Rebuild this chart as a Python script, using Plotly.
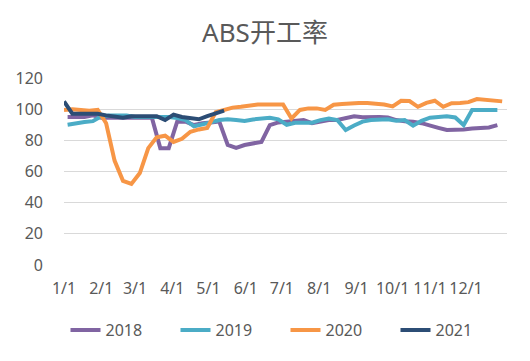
import pandas as pd
import plotly.graph_objects as go

title_text = "ABS开工率"
series_names = ["2018", "2019", "2020", "2021"]
series_colors = ["#8064A2", "#4BACC6", "#F79646", "#2C4D75"]

# month tick positions (shared display year) and their labels
tick_dates = ["2019-01-01", "2019-02-01", "2019-03-01", "2019-04-01", "2019-05-01", "2019-06-01",
              "2019-07-01", "2019-08-01", "2019-09-01", "2019-10-01", "2019-11-01", "2019-12-01"]
tick_labels = ["1/1", "2/1", "3/1", "4/1", "5/1", "6/1", "7/1", "8/1", "9/1", "10/1", "11/1", "12/1"]

# weekly values (first-week dates, shared display year)
start_2018 = "2019-01-04"
start_2019 = "2019-01-04"
start_2020 = "2019-01-01"
start_2021 = "2019-01-01"

values_2018 = [95, 95, 95, 96, 94.5, 94.5, 94.5, 94.5, 94.5, 94.5,
               94.5, 75, 75, 92, 92, 89.8, 91, 91.5, 92, 77,
               75.2, 77, 78, 79, 89.8, 91.5, 92, 92.5, 93, 91,
               92, 93, 93, 94.5, 95.5, 94.8, 95, 95, 94.7, 93,
               92.3, 92, 91, 89.8, 88, 86.6, 86.6, 87, 87.6, 88,
               88.3, 89.8]
values_2019 = [90, 91, 91.7, 92.3, 95.5, 96, 96.3, 96, 95, 95,
               95, 95, 95, 94.3, 93, 89, 90, 91.5, 93, 93.5,
               93, 92.4, 93.4, 94, 94.5, 93.5, 90, 91.3, 91.3, 91.3,
               93, 94, 93, 86.6, 89.5, 92, 93, 93.3, 93.5, 92.5,
               93, 89.4, 92.5, 94.5, 95.3, 95.5, 94.7, 89.8, 99.4, 99.5,
               99.5, 99.5]
values_2020 = [99.5, 100, 99.5, 99, 99.5, 91, 67, 54, 52, 59,
               75, 82, 83, 79, 81, 85.5, 87, 88, 98, 99.5,
               101, 101.5, 102.5, 103, 103, 103, 103, 94, 99.5, 100.5,
               100.5, 99.5, 102.8, 103.3, 103.8, 104, 104, 103.7, 103, 101.8,
               105.4, 105.2, 101.5, 104, 105.4, 101.5, 103.8, 104, 104.5, 106.5,
               106, 106, 105]
values_2021 = [105, 97, 97, 97, 97, 96, 95.5, 94.5, 95.5, 95.5,
               95.5, 95.5, 93, 96.5, 95, 94, 93.5, 95.5, 97.5, 99]

starts = [start_2018, start_2019, start_2020, start_2021]
all_values = [values_2018, values_2019, values_2020, values_2021]

fig = go.Figure()
for name, color, start, vals in zip(series_names, series_colors, starts, all_values):
    dates = pd.date_range(start=start, periods=len(vals), freq="7D")
    fig.add_trace(go.Scatter(
        x=dates, y=vals, mode="lines", name=name,
        line=dict(color=color, width=4),
    ))

font_family = "Noto Sans, Noto Sans CJK SC, sans-serif"
fig.update_layout(
    width=530, height=361,
    margin=dict(l=64, r=23, t=78, b=96, autoexpand=False),
    paper_bgcolor="white", plot_bgcolor="white",
    font=dict(family=font_family, size=16, color="#595959"),
    title=dict(text=title_text, x=0.5, xref="container", xanchor="center",
               y=1 - 32.5 / 361, yref="container", yanchor="middle",
               font=dict(size=26, color="#595959", family=font_family)),
    showlegend=True,
    legend=dict(orientation="h", x=0.5, xanchor="center", y=-0.348, yanchor="middle",
                entrywidth=65, entrywidthmode="pixels",
                font=dict(size=16, color="#595959")),
)
fig.update_xaxes(
    type="date", range=["2019-01-01", "2020-01-04"],
    tickvals=tick_dates, ticktext=tick_labels,
    showgrid=False, showline=False, zeroline=False, ticks="",
    ticklabelstandoff=12,
    tickfont=dict(size=16, color="#595959"),
)
fig.update_yaxes(
    range=[0, 120], dtick=20, tick0=0,
    showgrid=True, gridcolor="#D9D9D9", gridwidth=1.3,
    zeroline=False, showline=False, ticks="",
    ticklabelstandoff=20,
    tickfont=dict(size=16, color="#595959"),
)

fig.write_html("out.html", config={"displayModeBar": False},
               post_script="document.body.style.margin='0';")
